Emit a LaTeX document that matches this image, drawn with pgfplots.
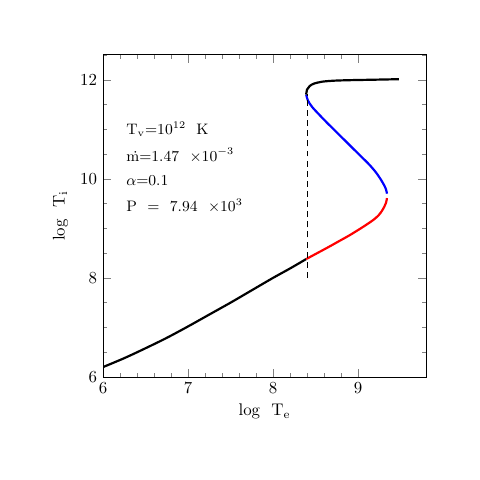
\documentclass[border=0pt]{standalone}
\usepackage{pgfplots}
\pgfplotsset{compat=1.18}
\begin{document}
\begin{tikzpicture}
\useasboundingbox (-2.146cm,-2.146cm) rectangle (7.854cm,7.854cm);
\begin{axis}[
    scale only axis,
    width=6.73cm, height=6.71cm,
    xmin=6, xmax=9.8,
    ymin=6, ymax=12.5,
    xtick={6,7,8,9}, ytick={6,8,10,12},
    minor x tick num=4,
    minor ytick={6.5,7,7.5,8.5,9,9.5,10.5,11,11.5,12.5},
    tick align=inside,
    major tick length=0.17cm, minor tick length=0.085cm,
    xtick pos=both, ytick pos=both,
    tick label style={font=\normalsize},
    label style={font=\normalsize},
    xlabel={log\ \ T$_\mathrm{e}$},
    ylabel={log\ \ T$_\mathrm{i}$},
    every axis x label/.style={at={(axis description cs:0.5,-0.065)}, anchor=north},
    every axis y label/.style={at={(axis description cs:-0.09,0.5)}, rotate=90, anchor=south},
    axis line style={line width=0.5pt},
]
% lower (cool) branch
\addplot[black, line width=1.3pt, smooth] coordinates {
    (6,6.2) (6.25,6.38) (6.5,6.58) (6.75,6.79) (7,7.02) (7.25,7.26)
    (7.5,7.5) (7.75,7.75) (8,8.0) (8.2,8.19) (8.39,8.38)
};
% red branch
\addplot[red, line width=1.3pt, smooth, tension=0.5] coordinates {
    (8.39,8.38) (8.52,8.50) (8.65,8.62) (8.77,8.735) (8.89,8.85)
    (9.00,8.965) (9.10,9.075) (9.18,9.17) (9.24,9.26) (9.28,9.35)
    (9.31,9.44) (9.33,9.52) (9.34,9.61)
};
% blue branch
\addplot[blue, line width=1.3pt, smooth, tension=0.5] coordinates {
    (9.34,9.70) (9.33,9.78) (9.31,9.86) (9.27,9.98) (9.21,10.13)
    (9.13,10.29) (9.03,10.46) (8.93,10.63) (8.83,10.80) (8.73,10.97)
    (8.63,11.14) (8.54,11.30) (8.46,11.45) (8.41,11.58) (8.39,11.70)
};
% upper (hot) branch
\addplot[black, line width=1.3pt, smooth, tension=0.5] coordinates {
    (8.39,11.70) (8.40,11.80) (8.43,11.87) (8.48,11.92) (8.58,11.96)
    (8.72,11.98) (8.9,11.99) (9.2,12.0) (9.48,12.01)
};
% dashed transition
\addplot[black, line width=0.6pt, dash pattern=on 3.5pt off 2.5pt] coordinates {
    (8.4,8.0) (8.4,11.72)
};
\node[anchor=west, font=\small, inner sep=0pt] at (axis cs:6.27,11.0) {T$_\mathrm{v}$=10$^{12}$\ \ K};
\node[anchor=west, font=\small, inner sep=0pt] at (axis cs:6.27,10.47) {\.m=1.47\ \ $\times$10$^{-3}$};
\node[anchor=west, font=\small, inner sep=0pt] at (axis cs:6.27,9.96) {$\alpha$=0.1};
\node[anchor=west, font=\small, inner sep=0pt] at (axis cs:6.27,9.45) {P\ \ =\ \ 7.94\ \ $\times$10$^{3}$};
\end{axis}
\end{tikzpicture}
\end{document}
